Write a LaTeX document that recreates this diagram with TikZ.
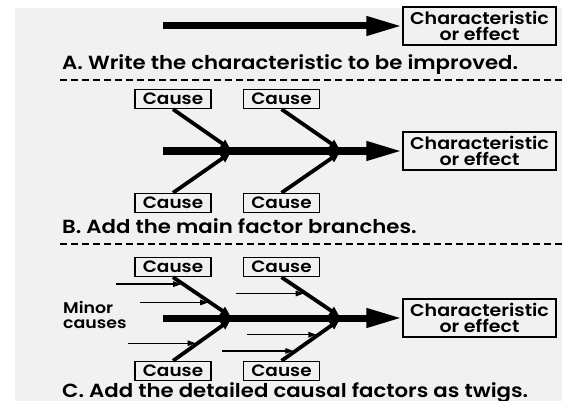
\documentclass[tikz,border=0pt]{standalone}
\usepackage{fontspec}
\setmainfont{Poppins SemiBold}[FakeStretch=1.12]
\usetikzlibrary{arrows.meta,calc}
\definecolor{paper}{HTML}{F1F1F1}
\begin{document}
\begin{tikzpicture}[x=1pt, y=-1pt,
	cause/.style={draw, line width=1.4pt, inner sep=0pt, minimum width=76pt, minimum height=19pt, font=\fontsize{16.5}{16.5}\selectfont},
	effect/.style={draw, line width=1.4pt, inner sep=0pt, minimum width=153pt, minimum height=38pt, align=center, font=\fontsize{17}{15.5}\selectfont},
	spine/.style={line width=7pt, -{Triangle[length=36pt, width=18pt]}},
	bone/.style={line width=3.8pt, shorten >=3pt, -{Triangle[length=10pt, width=9pt]}},
	twig/.style={line width=1.3pt, shorten >=2pt, -{Triangle[length=8pt, width=5.5pt]}},
	steplabel/.style={anchor=base west, inner sep=0pt, font=\fontsize{19}{19}\selectfont},
	separator/.style={line width=1.5pt, dash pattern=on 7pt off 4pt}]
	\useasboundingbox (0,0) rectangle (562,401);
	\fill[white] (0,0) rectangle (562,401);
	\fill[paper] (15,8) rectangle (562,401);
	% A
	\node[effect] (effA) at (479.5,26) {Characteristic\\or effect};
	\coordinate (tailA) at (163,0);
	\draw[spine] (effA.west -| tailA) -- (effA.west);
	\node[steplabel] (stepA) at (62,70) {A. Write the characteristic to be improved.};
	\draw[separator] (60,80) -- (562,80);
	% B
	\node[cause] (b1) at (173,99) {Cause};
	\node[cause] (b2) at (281.5,99) {Cause};
	\node[cause] (b3) at (173,203) {Cause};
	\node[cause] (b4) at (281.5,203) {Cause};
	\node[effect] (effB) at (479.5,151) {Characteristic\\or effect};
	\coordinate (jB1) at (233,151);
	\coordinate (jB2) at (342,151);
	\draw[spine] (effB.west -| tailA) -- (effB.west);
	\draw[bone] (b1.south) -- (jB1);
	\draw[bone] (b3.north) -- (jB1);
	\draw[bone] (b2.south) -- (jB2);
	\draw[bone] (b4.north) -- (jB2);
	\node[steplabel] (stepB) at (62,233) {B. Add the main factor branches.};
	\draw[separator] (60,244) -- (562,244);
	% C
	\node[cause] (c1) at (173,267) {Cause};
	\node[cause] (c2) at (281.5,267) {Cause};
	\node[cause] (c3) at (173,371) {Cause};
	\node[cause] (c4) at (281.5,371) {Cause};
	\node[effect] (effC) at (479.5,318) {Characteristic\\or effect};
	\coordinate (jC1) at (233,318);
	\coordinate (jC2) at (342,318);
	\draw[spine] (effC.west -| tailA) -- (effC.west);
	\draw[bone] (c1.south) -- (jC1);
	\draw[bone] (c3.north) -- (jC1);
	\draw[bone] (c2.south) -- (jC2);
	\draw[bone] (c4.north) -- (jC2);
	\node[anchor=base west, inner sep=0pt, align=left, font=\fontsize{15.5}{14.5}\selectfont] (minor) at (63,328) {Minor\\causes};
	\coordinate (k1) at ($(c1.south)!0.17!(jC1)$);
	\coordinate (k2) at ($(c1.south)!0.62!(jC1)$);
	\coordinate (k3) at ($(c2.south)!0.40!(jC2)$);
	\coordinate (k4) at ($(c3.north)!0.41!(jC1)$);
	\coordinate (k5) at ($(c4.north)!0.61!(jC2)$);
	\coordinate (k6) at ($(c4.north)!0.23!(jC2)$);
	\draw[twig] ($(k1)+(-67,0)$) -- (k1);
	\draw[twig] ($(k2)+(-70,0)$) -- (k2);
	\draw[twig] ($(k3)+(-70,0)$) -- (k3);
	\draw[twig] ($(k4)+(-70,0)$) -- (k4);
	\draw[twig] ($(k5)+(-71,0)$) -- (k5);
	\draw[twig] ($(k6)+(-73,0)$) -- (k6);
	\node[steplabel] (stepC) at (62,397) {C. Add the detailed causal factors as twigs.};
\end{tikzpicture}
\end{document}
